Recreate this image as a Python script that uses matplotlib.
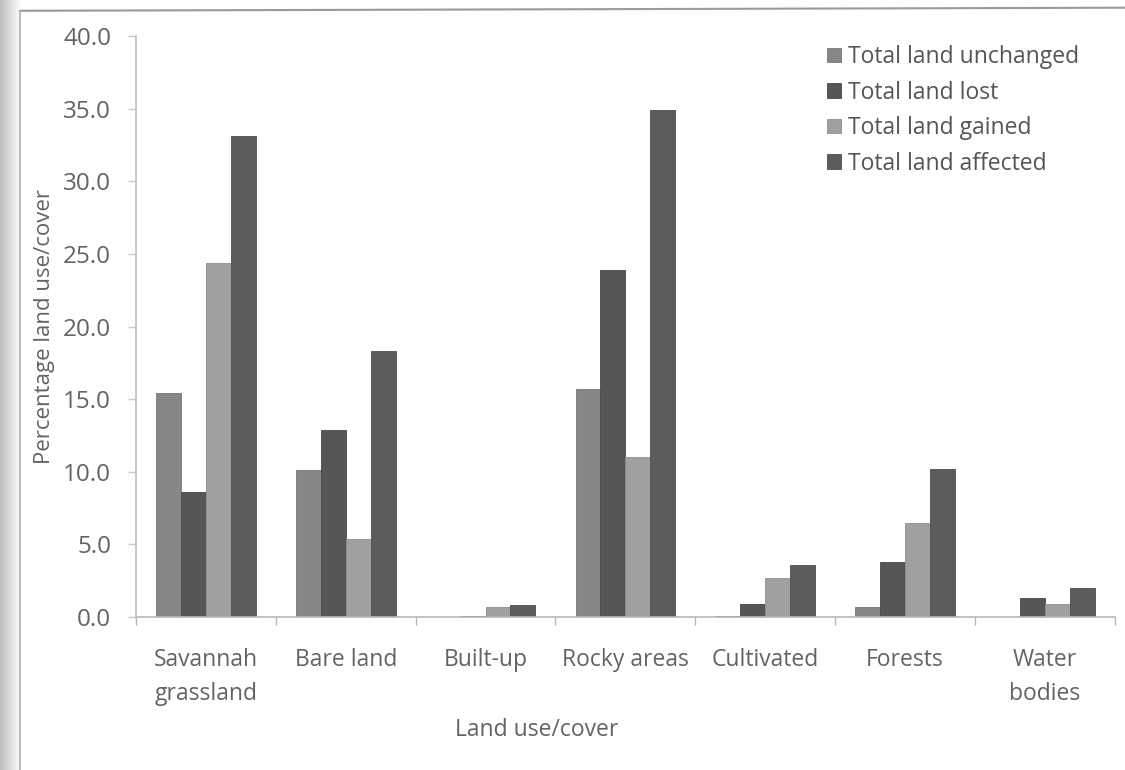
import numpy as np
import matplotlib
matplotlib.use("Agg")
import matplotlib.pyplot as plt
from matplotlib.lines import Line2D

plt.rcParams['font.family'] = ['Open Sans', 'DejaVu Sans']

categories = ["Savannah\ngrassland", "Bare land", "Built-up", "Rocky areas",
              "Cultivated", "Forests", "Water\nbodies"]
series_names = ["Total land unchanged", "Total land lost",
                "Total land gained", "Total land affected"]
unchanged = [15.4, 10.1, 0.0, 15.7, 0.1, 0.7, 0.0]
lost = [8.6, 12.9, 0.1, 23.9, 0.9, 3.8, 1.3]
gained = [24.4, 5.4, 0.7, 11.0, 2.7, 6.5, 0.9]
affected = [33.1, 18.3, 0.8, 34.9, 3.6, 10.2, 2.0]
y_ticks = [0, 5, 10, 15, 20, 25, 30, 35, 40]

colors = ["#878787", "#565656", "#a0a0a0", "#5c5c5c"]
edges = ["#767676", "#494949", "#8e8e8e", "#4e4e4e"]
text_col = "#636363"

fig = plt.figure(figsize=(11.25, 7.7), dpi=100)
fig.patch.set_facecolor("white")

# scanned page edge on the left
edge_ax = fig.add_axes([0, 0, 0.018, 1])
grad = np.linspace(0.74, 1.0, 64).reshape(1, -1)
edge_ax.imshow(grad, aspect="auto", cmap="gray", vmin=0, vmax=1,
               extent=[0, 1, 0, 1])
edge_ax.axis("off")

# chart border
fig.add_artist(Line2D([0.018, 1.0], [0.986, 0.990], color="#9a9a9a", lw=1.5))
fig.add_artist(Line2D([0.018, 0.018], [0.0, 0.986], color="#b0b0b0", lw=1.2))

ax = fig.add_axes([0.1209, 0.1987, 0.870, 0.7545])

x = np.arange(len(categories))
w = 0.178
data = [unchanged, lost, gained, affected]
for k, (vals, name) in enumerate(zip(data, series_names)):
    ax.bar(x + (k - 1.5) * w, vals, width=w, color=colors[k],
           edgecolor=edges[k], linewidth=0.6, label=name, zorder=2)

ax.set_xlim(-0.5, len(categories) - 0.5)
ax.set_ylim(0, 40)
ax.set_yticks(y_ticks)
ax.set_yticklabels([f"{v:.1f}" for v in y_ticks], fontsize=17.5,
                   color=text_col)

ax.set_xticks(x)
ax.set_xticklabels(categories, fontsize=16.5, color=text_col, linespacing=1.6)
ax.tick_params(axis="x", length=0, pad=22)
ax.set_xticks(np.arange(len(categories) + 1) - 0.5, minor=True)
ax.tick_params(axis="x", which="minor", length=6, color="#b8b8b8", width=1)
ax.tick_params(axis="y", length=6, color="#c8c8c8", width=1, pad=12)

for s in ["top", "right"]:
    ax.spines[s].set_visible(False)
ax.spines["left"].set_color("#c0c0c0")
ax.spines["bottom"].set_color("#b8b8b8")
ax.spines["left"].set_linewidth(1.2)
ax.spines["bottom"].set_linewidth(1.2)

ax.set_ylabel("Percentage land use/cover", fontsize=16, color=text_col,
              labelpad=6)
fig.text(0.477, 0.052, "Land use/cover", fontsize=16.5, color=text_col,
         ha="center", va="center")

leg = ax.legend(loc="upper left", bbox_to_anchor=(0.697, 1.0), frameon=False,
                fontsize=16.5, handlelength=0.58, handleheight=0.58,
                handletextpad=0.3, labelspacing=0.5, borderaxespad=0.0)
for t in leg.get_texts():
    t.set_color("#555555")

fig.savefig("out.png", dpi=100)
